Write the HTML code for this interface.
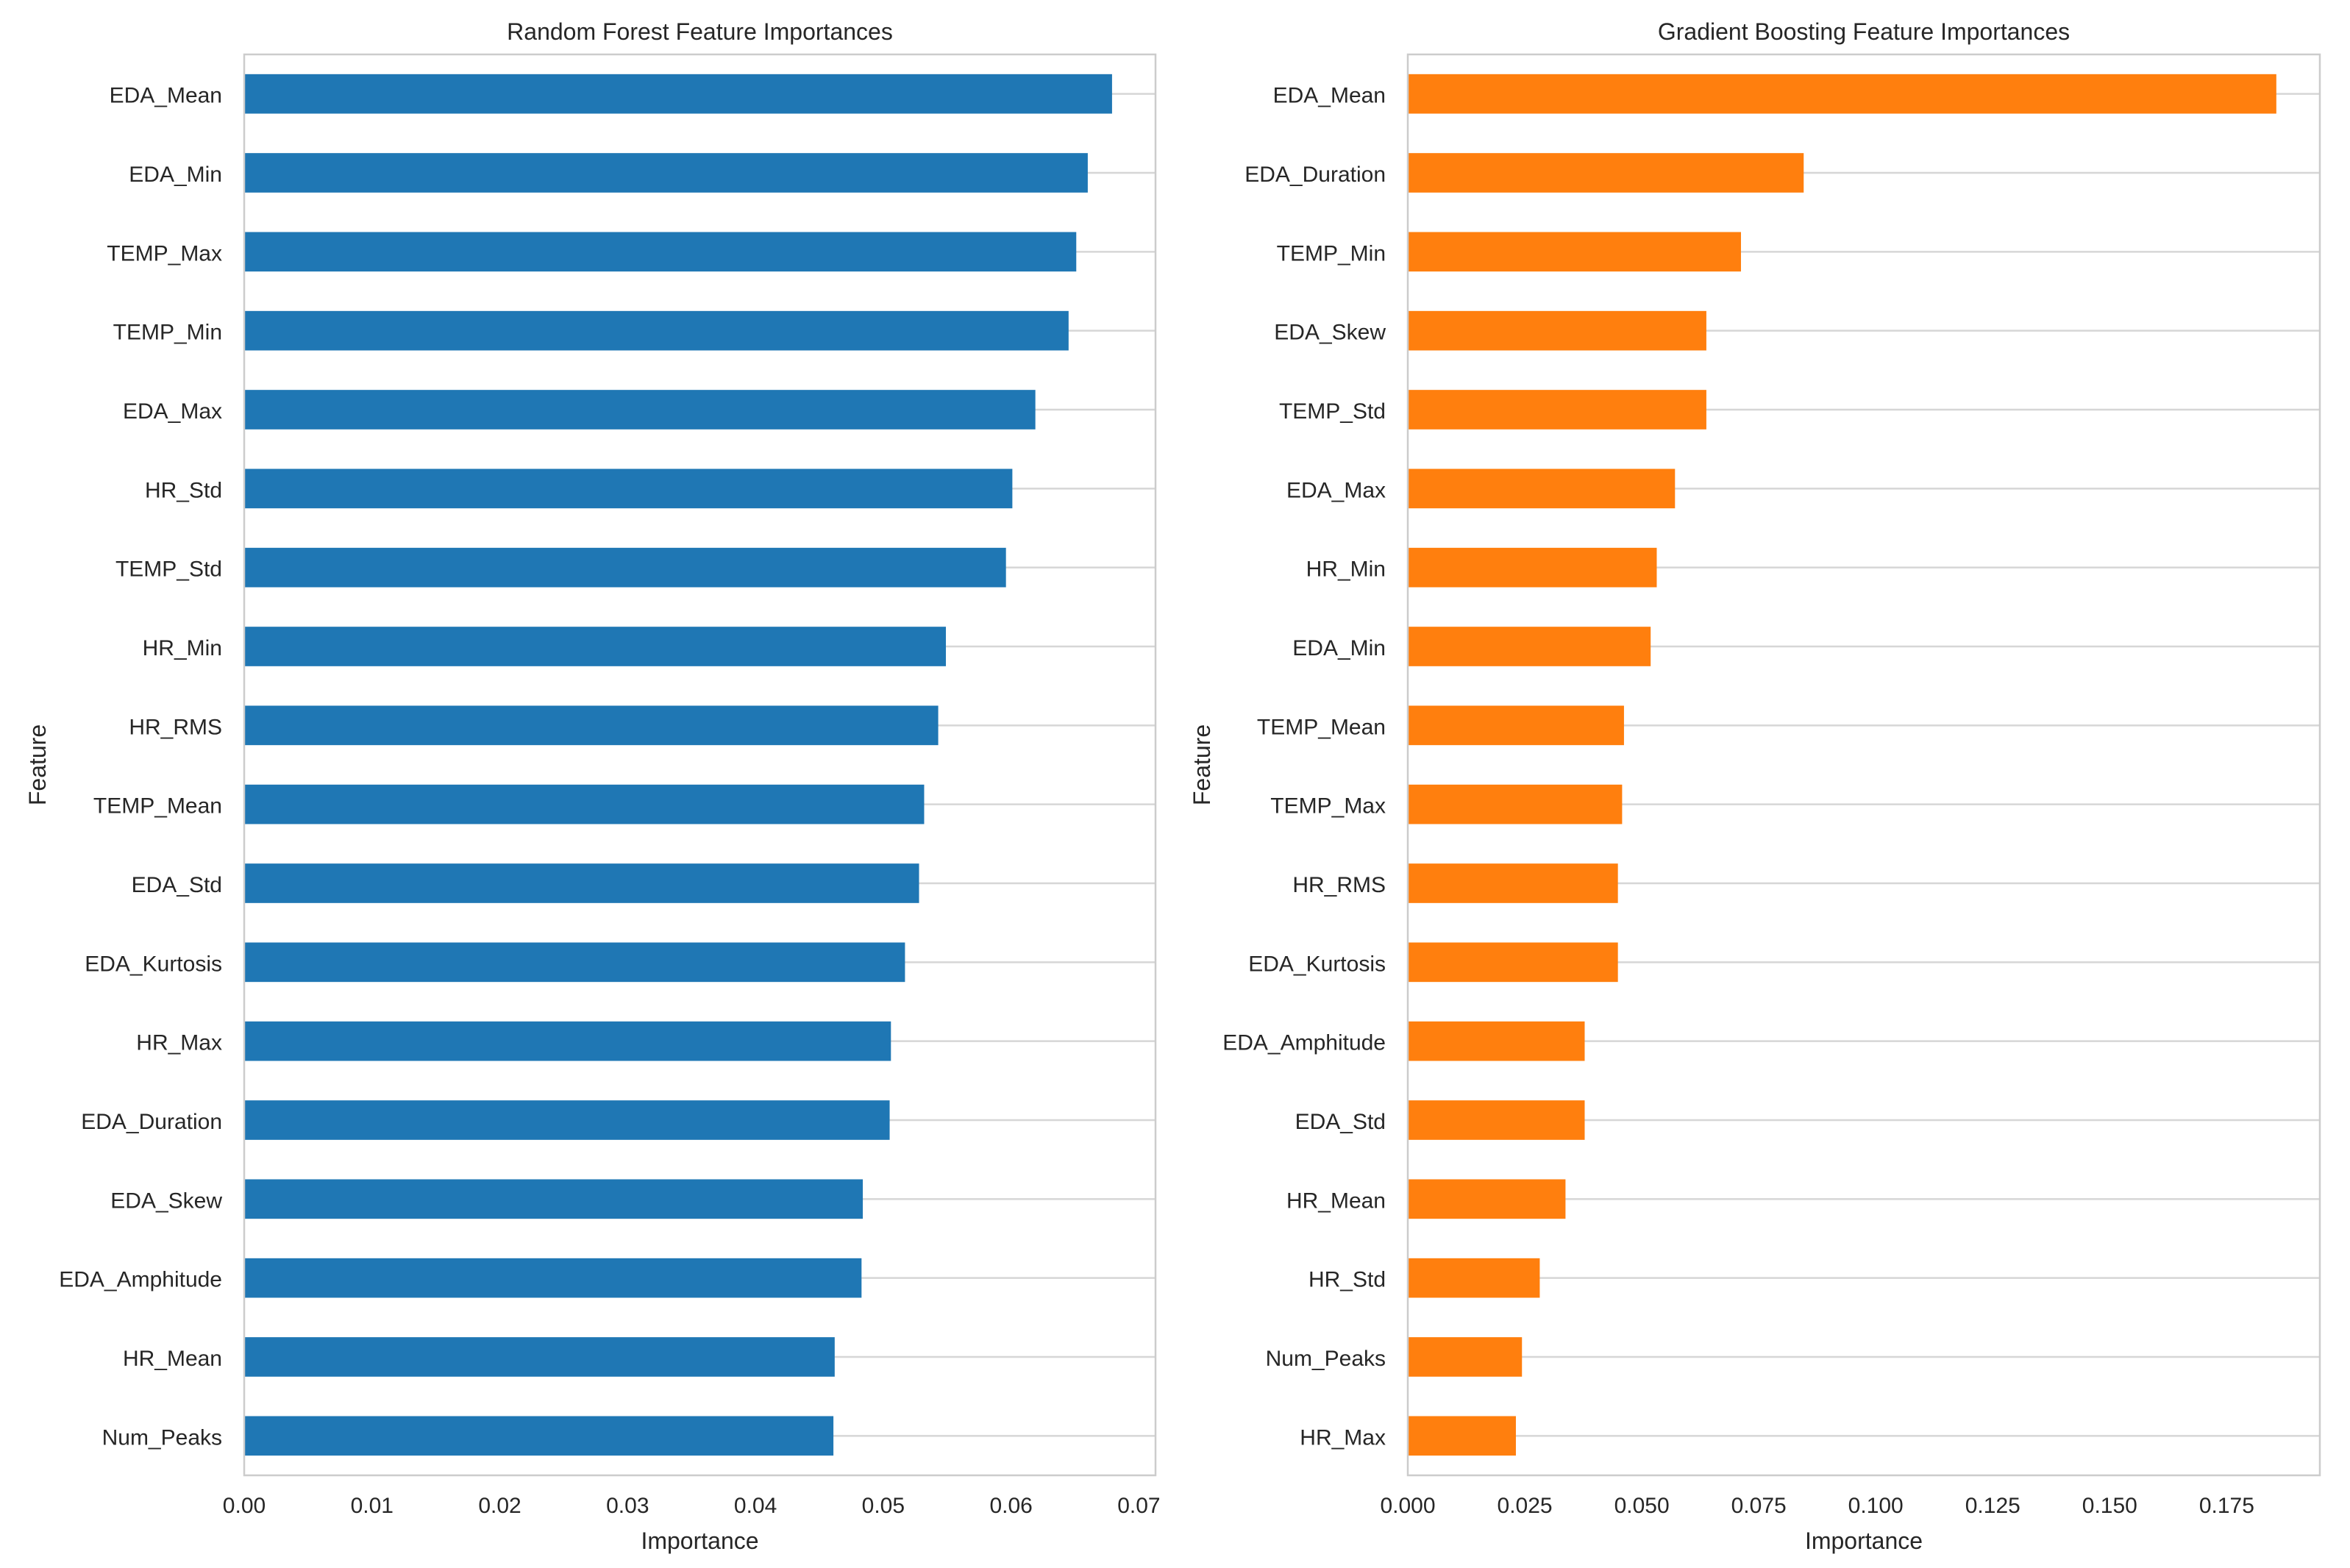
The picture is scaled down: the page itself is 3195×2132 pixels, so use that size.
<!DOCTYPE html>
<html><head><meta charset="utf-8"><style>
html,body{margin:0;padding:0;background:#fff;}
svg{display:block;font-family:"Liberation Sans",Arial,sans-serif;}
</style></head><body>
<svg id="chart" width="3195" height="2132" viewBox="0 0 3195 2132" xmlns="http://www.w3.org/2000/svg"></svg>
<script>
const rfFeatures = ["EDA_Mean","EDA_Min","TEMP_Max","TEMP_Min","EDA_Max","HR_Std","TEMP_Std","HR_Min","HR_RMS","TEMP_Mean","EDA_Std","EDA_Kurtosis","HR_Max","EDA_Duration","EDA_Skew","EDA_Amphitude","HR_Mean","Num_Peaks"];
const rfValues = [0.0679,0.0660,0.0651,0.0645,0.0619,0.0601,0.0596,0.0549,0.0543,0.0532,0.0528,0.0517,0.0506,0.0505,0.0484,0.0483,0.0462,0.0461];
const rfTicks = [0,0.01,0.02,0.03,0.04,0.05,0.06,0.07];
const rfTickLabels = ["0.00","0.01","0.02","0.03","0.04","0.05","0.06","0.07"];
const gbFeatures = ["EDA_Mean","EDA_Duration","TEMP_Min","EDA_Skew","TEMP_Std","EDA_Max","HR_Min","EDA_Min","TEMP_Mean","TEMP_Max","HR_RMS","EDA_Kurtosis","EDA_Amphitude","EDA_Std","HR_Mean","HR_Std","Num_Peaks","HR_Max"];
const gbValues = [0.1856,0.0846,0.0712,0.0638,0.0638,0.0571,0.0532,0.0519,0.0462,0.0458,0.0449,0.0449,0.0378,0.0378,0.0337,0.0282,0.0244,0.0231];
const gbTicks = [0,0.025,0.05,0.075,0.1,0.125,0.15,0.175];
const gbTickLabels = ["0.000","0.025","0.050","0.075","0.100","0.125","0.150","0.175"];

const NS="http://www.w3.org/2000/svg";
const svg=document.getElementById('chart');
function mk(tag,attrs,parent){const e=document.createElementNS(NS,tag);for(const k in attrs)e.setAttribute(k,attrs[k]);(parent||svg).appendChild(e);return e;}

function panel(key,title,cats,vals,ticks,tickLabels,L,R,xmax,color,ylabX){
  const T=74,B=2006;
  const g=mk('g',{});
  
  
  const x=v=>L+(R-L)*v/xmax;
  const step=(B-T)/cats.length;
  const y=i=>T+step*(i+0.5);
  cats.forEach((c,i)=>{
    const gl=mk('line',{x1:L,x2:R,y1:y(i),y2:y(i),stroke:'#d6d6d6','stroke-width':2.5},g);
    
    
  });
  vals.forEach((v,i)=>{
    const r=mk('rect',{x:L,y:y(i)-step*0.25,width:x(v)-L,height:step*0.5,fill:color},g);
    
    
    const t=mk('text',{x:L-30,y:y(i)+12,'text-anchor':'end','font-size':30,fill:'#262626'},g);
    t.textContent=cats[i];
    
    
  });
  const fr=mk('rect',{x:L,y:T,width:R-L,height:B-T,fill:'none',stroke:'#cccccc','stroke-width':2.5},g);
  
  
  ticks.forEach((v,i)=>{
    const t=mk('text',{x:x(v),y:2057,'text-anchor':'middle','font-size':30,fill:'#262626'},g);
    t.textContent=tickLabels[i];
    
    
  });
  const xl=mk('text',{x:(L+R)/2,y:2106,'text-anchor':'middle','font-size':32,fill:'#262626'},g);
  xl.textContent='Importance';
  
  
  const yl=mk('text',{x:ylabX,y:(T+B)/2,'text-anchor':'middle','font-size':32,fill:'#262626',transform:`rotate(-90 ${ylabX} ${(T+B)/2})`},g);
  yl.textContent='Feature';
  
  
  const tt=mk('text',{x:(L+R)/2,y:54,'text-anchor':'middle','font-size':32,fill:'#262626'},g);
  tt.textContent=title;
  
  
}
panel('random-forest','Random Forest Feature Importances',rfFeatures,rfValues,rfTicks,rfTickLabels,332,1571,0.0713,'#1f77b4',62);
panel('gradient-boosting','Gradient Boosting Feature Importances',gbFeatures,gbValues,gbTicks,gbTickLabels,1914,3154,0.1949,'#ff7f0e',1645);
</script>
</body></html>
